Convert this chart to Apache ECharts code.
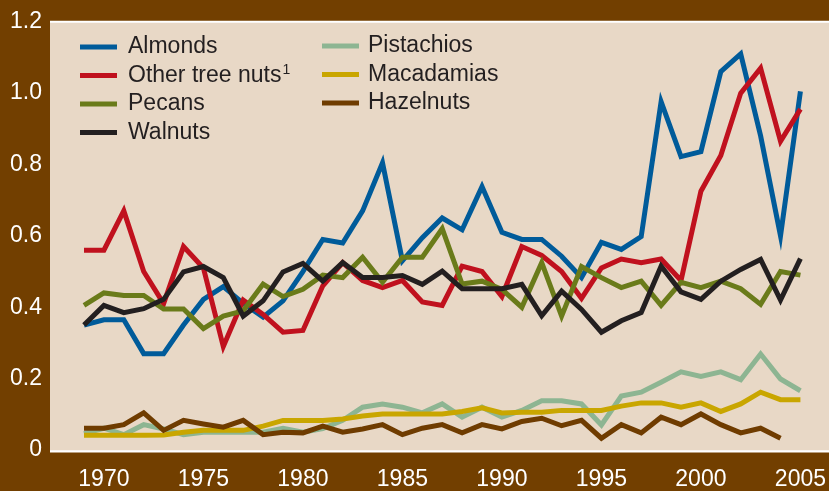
<!DOCTYPE html>
<html>
<head>
<meta charset="utf-8">
<script src="https://cdn.jsdelivr.net/npm/echarts@6/dist/echarts.min.js"></script>
<style>
html,body{margin:0;padding:0;background:#723F00;}
#chart{width:829px;height:491px;}
</style>
</head>
<body>
<div id="chart"></div>
<script>
const years = [];
for (let y = 1969; y <= 2005; y++) years.push(String(y));

const almonds = [0.35,0.365,0.365,0.27,0.27,0.35,0.422,0.458,0.411,0.372,0.418,0.50,0.59,0.58,0.67,0.805,0.53,0.595,0.65,0.617,0.738,0.61,0.59,0.59,0.543,0.483,0.582,0.562,0.598,0.976,0.822,0.836,1.06,1.11,0.88,0.60,1.005];
const otherTreeNuts = [0.56,0.56,0.67,0.50,0.41,0.57,0.51,0.29,0.42,0.38,0.33,0.335,0.46,0.525,0.475,0.455,0.475,0.415,0.405,0.515,0.50,0.43,0.57,0.545,0.50,0.425,0.51,0.535,0.525,0.535,0.475,0.725,0.825,1.0,1.07,0.865,0.955];
const pecans = [0.405,0.44,0.433,0.433,0.395,0.395,0.34,0.375,0.39,0.465,0.43,0.45,0.49,0.483,0.54,0.47,0.54,0.54,0.62,0.465,0.473,0.45,0.40,0.525,0.375,0.514,0.483,0.455,0.473,0.405,0.47,0.455,0.473,0.452,0.408,0.50,0.49];
const walnuts = [0.35,0.405,0.385,0.396,0.422,0.499,0.514,0.483,0.375,0.418,0.499,0.523,0.473,0.525,0.483,0.483,0.489,0.464,0.501,0.452,0.452,0.452,0.464,0.376,0.445,0.394,0.33,0.362,0.385,0.515,0.443,0.422,0.473,0.506,0.534,0.42,0.536];
const pistachios = [0.046,0.061,0.043,0.071,0.059,0.043,0.05,0.05,0.05,0.05,0.061,0.05,0.06,0.083,0.12,0.129,0.12,0.104,0.129,0.092,0.12,0.092,0.111,0.138,0.138,0.129,0.07,0.151,0.162,0.19,0.219,0.206,0.219,0.197,0.269,0.199,0.166];
const macadamias = [0.041,0.041,0.041,0.041,0.042,0.05,0.055,0.055,0.055,0.067,0.083,0.083,0.083,0.087,0.095,0.101,0.101,0.101,0.101,0.108,0.118,0.104,0.106,0.106,0.111,0.111,0.111,0.123,0.132,0.132,0.12,0.132,0.108,0.129,0.162,0.141,0.141];
const hazelnuts = [0.061,0.061,0.071,0.104,0.055,0.083,0.073,0.064,0.083,0.043,0.05,0.048,0.067,0.05,0.059,0.071,0.043,0.061,0.071,0.048,0.071,0.059,0.08,0.089,0.068,0.083,0.033,0.071,0.048,0.092,0.071,0.101,0.071,0.048,0.061,0.033,null];

const yTicks = [0, 0.2, 0.4, 0.6, 0.8, 1.0, 1.2];
const xLabelYears = ['1970','1975','1980','1985','1990','1995','2000','2005'];

const seriesDefs = [
  {name: 'Almonds', data: almonds, color: '#005B9A'},
  {name: 'Other tree nuts', data: otherTreeNuts, color: '#C0111E'},
  {name: 'Pecans', data: pecans, color: '#6A7B1A'},
  {name: 'Walnuts', data: walnuts, color: '#231F20'},
  {name: 'Pistachios', data: pistachios, color: '#8DB592'},
  {name: 'Macadamias', data: macadamias, color: '#C9A600'},
  {name: 'Hazelnuts', data: hazelnuts, color: '#6F3C00'}
];

const FONT = '"Liberation Sans", Arial, Helvetica, sans-serif';
const chart = echarts.init(document.getElementById('chart'), null, {renderer: 'canvas'});

const legendBase = {
  orient: 'vertical',
  icon: 'rect',
  itemWidth: 37,
  itemHeight: 5,
  itemGap: 4.5,
  padding: 0,
  selectedMode: false,
  textStyle: {
    fontFamily: FONT, fontSize: 23, color: '#231F20', lineHeight: 24,
    padding: [0, 0, 0, 6],
    rich: {
      sup: {fontFamily: FONT, fontSize: 14, color: '#231F20', verticalAlign: 'top', lineHeight: 14, padding: [0,0,0,1]}
    }
  },
  formatter: function (name) { return name === 'Other tree nuts' ? 'Other tree nuts{sup|1}' : name; }
};

chart.setOption({
  animation: false,
  backgroundColor: '#723F00',
  graphic: [
    {type: 'rect', z: -10, shape: {x: 50, y: 22, width: 779, height: 429}, style: {fill: '#E8D8C6'}},
    {type: 'rect', z: -9, shape: {x: 50, y: 20.7, width: 779, height: 2}, style: {fill: '#FFFFFF'}},
    {type: 'rect', z: -9, shape: {x: 50, y: 450.3, width: 779, height: 2.3}, style: {fill: '#FFFFFF'}}
  ],
  grid: {left: 84, right: 26, top: 21.7, bottom: 39.7, containLabel: false},
  legend: [
    Object.assign({}, legendBase, {left: 80, top: 35, data: ['Almonds','Other tree nuts','Pecans','Walnuts']}),
    Object.assign({}, legendBase, {left: 322, top: 34, data: ['Pistachios','Macadamias','Hazelnuts'], textStyle: Object.assign({}, legendBase.textStyle, {padding: [0,0,0,4]})})
  ],
  xAxis: {
    type: 'category',
    data: years,
    boundaryGap: false,
    axisLine: {show: false},
    axisTick: {show: false},
    splitLine: {show: false},
    axisLabel: {
      color: '#FFFFFF', fontFamily: FONT, fontSize: 23, margin: 18,
      interval: function (idx, val) { return xLabelYears.indexOf(val) >= 0; }
    }
  },
  yAxis: {
    type: 'value',
    min: yTicks[0], max: yTicks[yTicks.length - 1], interval: 0.2,
    axisLine: {show: false},
    axisTick: {show: false},
    splitLine: {show: false},
    axisLabel: {
      color: '#FFFFFF', fontFamily: FONT, fontSize: 23, margin: 42,
      padding: [5, 0, 0, 0],
      formatter: function (v) { return v === 0 ? '0' : v.toFixed(1); }
    }
  },
  series: seriesDefs.map(function (s) {
    return {
      name: s.name, type: 'line', data: s.data, symbol: 'none', connectNulls: false,
      color: s.color,
      itemStyle: {color: s.color},
      lineStyle: {color: s.color, width: 5, join: 'miter', miterLimit: 10, cap: 'butt'},
      emphasis: {disabled: true}
    };
  })
});
</script>
</body>
</html>
